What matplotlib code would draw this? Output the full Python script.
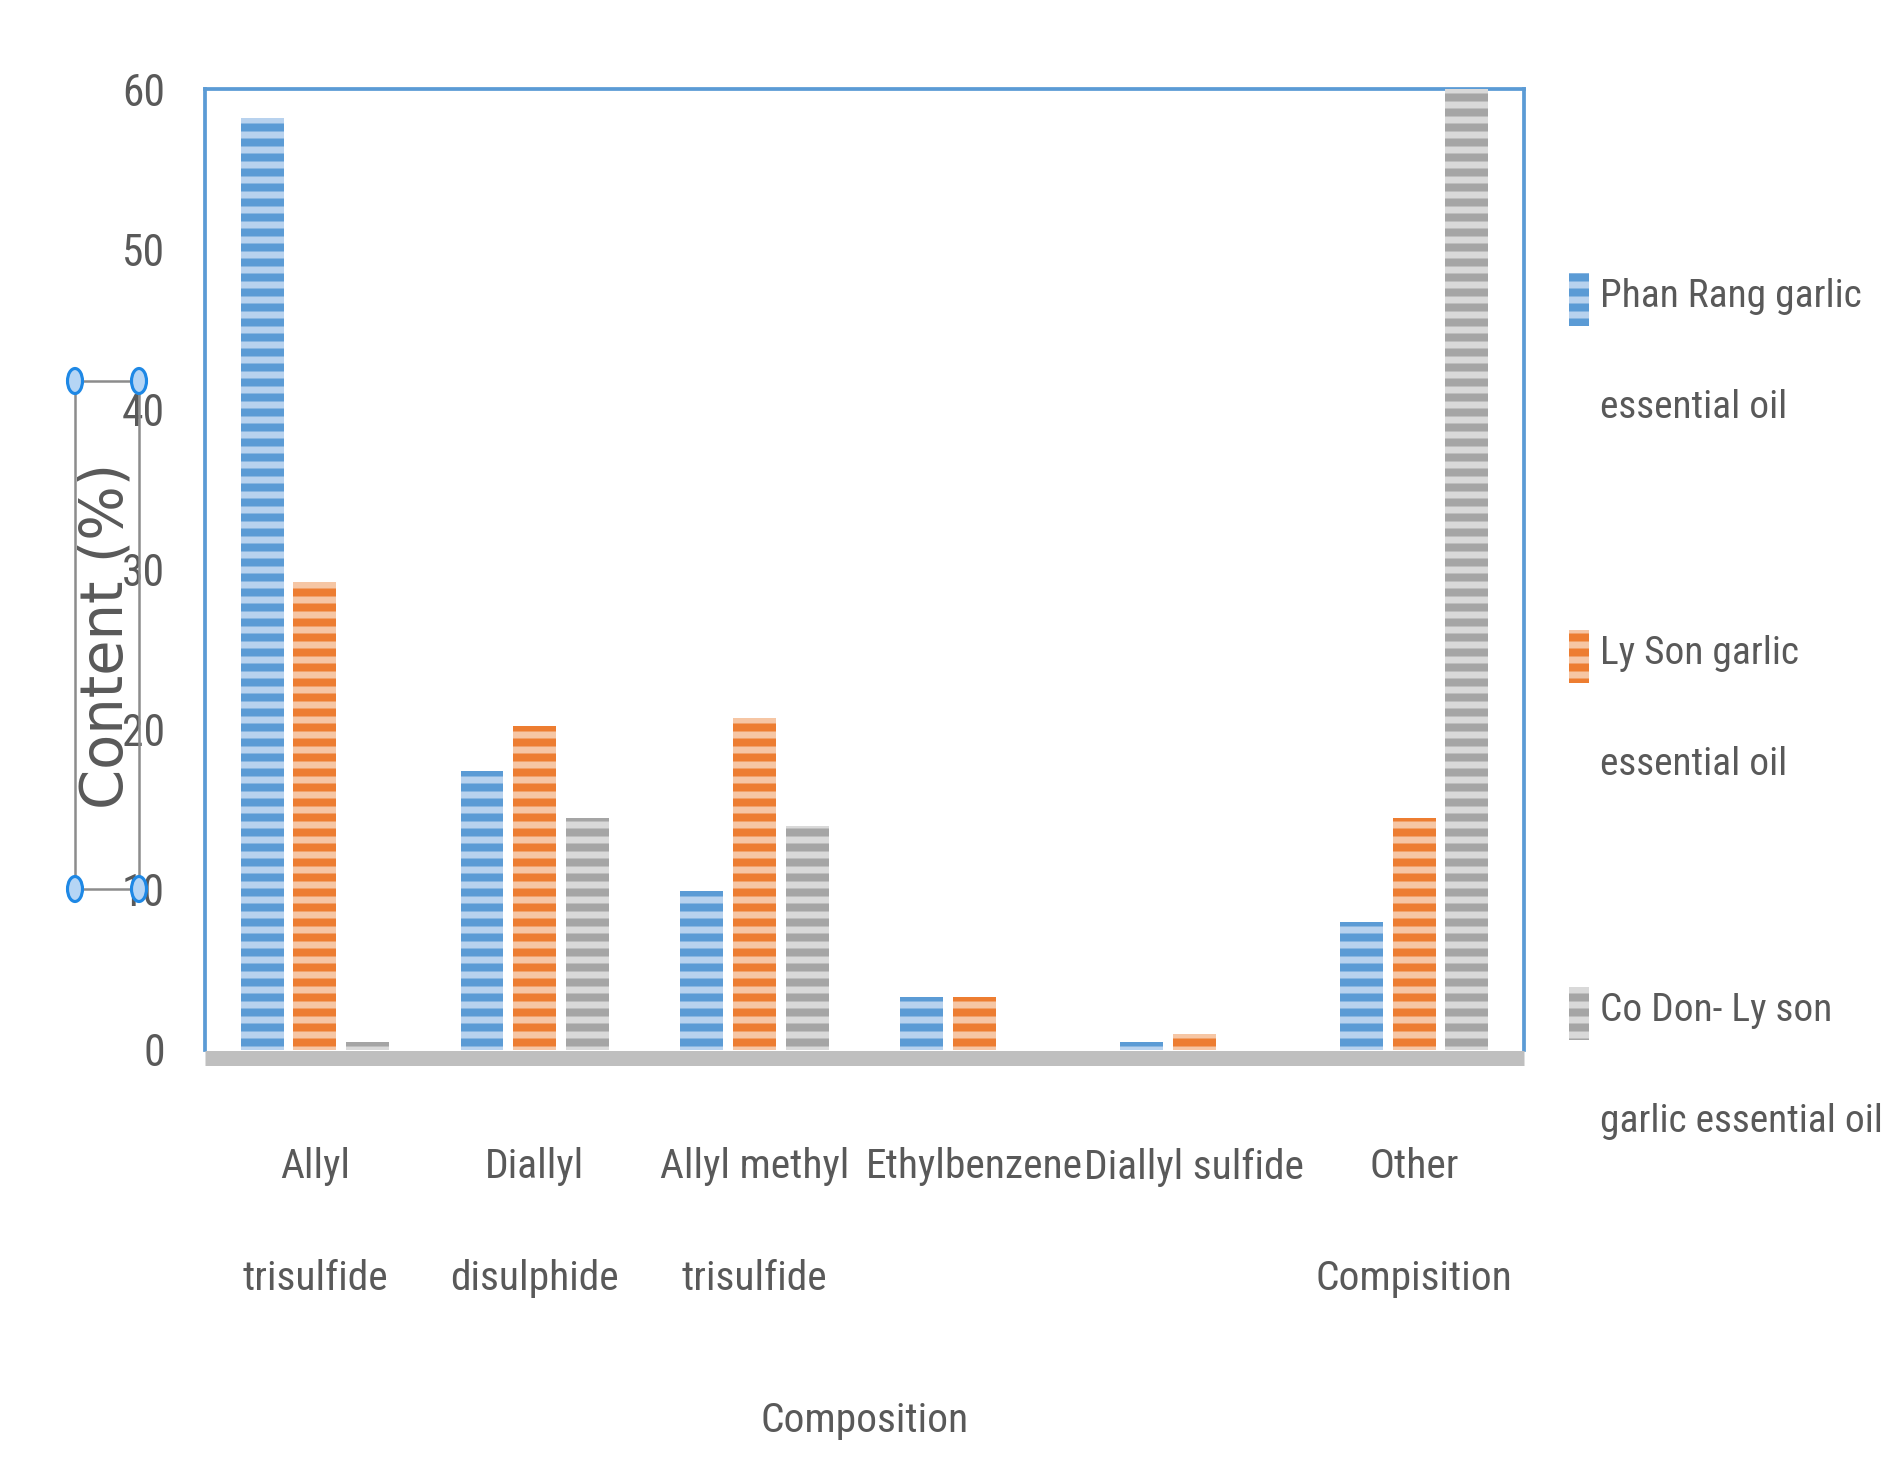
import matplotlib
matplotlib.use('Agg')
import matplotlib.pyplot as plt
from matplotlib import font_manager
from matplotlib.font_manager import FontProperties
from matplotlib.textpath import TextPath
from matplotlib.patches import Rectangle, Ellipse
from matplotlib.container import BarContainer
from matplotlib.legend_handler import HandlerPatch, update_from_first_child
import numpy as np

categories = ['Allyl\ntrisulfide', 'Diallyl\ndisulphide', 'Allyl methyl\ntrisulfide',
              'Ethylbenzene', 'Diallyl sulfide', 'Other\nCompisition']
phan_rang = [58.2, 17.4, 9.9, 3.3, 0.5, 8.0]
ly_son = [29.2, 20.2, 20.7, 3.3, 1.0, 14.5]
co_don = [0.5, 14.5, 14.0, 0.0, 0.0, 60.0]
series_names = ['Phan Rang garlic\nessential oil', 'Ly Son garlic\nessential oil',
                'Co Don- Ly son\ngarlic essential oil']
y_ticks = [0, 10, 20, 30, 40, 50, 60]

dark_colors = ['#5b9bd5', '#ed7d31', '#a5a5a5']
light_colors = ['#b8d2ee', '#f6c6a4', '#d9d9d9']
text_color = '#595959'

DPI = 90
PT = DPI / 72.0  # pixels per point

# pick the narrowest sans font that is installed (the chart uses a squeezed Calibri look)
fonts = font_manager.fontManager.ttflist
names = {f.name for f in fonts}
if 'Liberation Sans Narrow' in names:
    narrow = {'family': 'Liberation Sans Narrow'}
elif 'Roboto Condensed' in names:
    narrow = {'family': 'Roboto Condensed'}
elif any(f.name == 'DejaVu Sans' and f.stretch == 'condensed' for f in fonts):
    narrow = {'family': 'DejaVu Sans', 'stretch': 'condensed'}
else:
    narrow = {'family': 'Liberation Sans'}

# size the font so "Ethylbenzene" spans about 212 px, as in the chart
probe = TextPath((0, 0), 'Ethylbenzene', prop=FontProperties(size=100, **narrow))
fs = 100 * (212 / PT) / probe.get_extents().width
fs_px = fs * PT
step_px = 110  # distance between the two lines of a label
line_sp = (step_px - 0.21 * fs_px) / (0.73 * fs_px)

plt.rcParams['hatch.linewidth'] = 6.4

fig = plt.figure(figsize=(1889 / DPI, 1458 / DPI), dpi=DPI)
ax = fig.add_axes([205 / 1889, 1 - 1050 / 1458, 1319 / 1889, 961 / 1458])

for side in ['left', 'top', 'right']:
    ax.spines[side].set_color('#5b9bd5')
    ax.spines[side].set_linewidth(3)
ax.spines['bottom'].set_position(('outward', 6))
ax.spines['bottom'].set_color('#bfbfbf')
ax.spines['bottom'].set_linewidth(12)
ax.spines['bottom'].set_capstyle('butt')

x = np.arange(len(categories))
width = 0.195
offsets = [-0.24, 0.0, 0.24]
for vals, name, dc, lc, off in zip([phan_rang, ly_son, co_don], series_names,
                                   dark_colors, light_colors, offsets):
    ax.bar(x + off, vals, width, color=lc, edgecolor=dc, linewidth=0,
           hatch='-', label=name, zorder=3)

ax.set_xlim(-0.5, len(categories) - 0.5)
ax.set_ylim(0, 60)
ax.tick_params(axis='x', length=0, pad=72)
ax.tick_params(axis='y', length=0, pad=32)
ax.set_yticks(y_ticks)
ax.set_xticks(x)
ax.set_xticklabels(categories, fontproperties=FontProperties(size=fs, **narrow),
                   color=text_color, linespacing=line_sp, va='top')
ax.set_yticklabels([str(t) for t in y_ticks],
                   fontproperties=FontProperties(size=fs * 1.05, **narrow), color=text_color)

ax.set_xlabel('Composition', fontproperties=FontProperties(size=fs, **narrow),
              color=text_color)
ax.xaxis.set_label_coords(0.5, -0.386)
ax.xaxis.label.set_va('center')

ax.set_ylabel('Content (%)', family='DejaVu Sans', fontsize=46, color=text_color)
ax.yaxis.set_label_coords(-0.075, 0.431)
ax.yaxis.label.set_va('center')

# selection frame around the axis title
fig.patches.append(Rectangle((75 / 1889, 1 - 889 / 1458), 64 / 1889, 508 / 1458,
                             transform=fig.transFigure, fill=False,
                             edgecolor='#8c8c8c', linewidth=2))
for cx in [75, 139]:
    for cy in [381, 889]:
        fig.patches.append(Ellipse((cx / 1889, 1 - cy / 1458), 15 / 1889, 25 / 1458,
                                   transform=fig.transFigure, facecolor='#b5d5f5',
                                   edgecolor='#1e88e5', linewidth=2.5, zorder=5))

leg_fs = fs * 0.95
leg_px = leg_fs * PT
shift_pt = 54 / PT
key_h = 53 / PT


def top_patch(legend, orig_handle, xdescent, ydescent, width, height, fontsize):
    # legend key next to the first line of the label
    y0 = -ydescent + shift_pt + height / 2 - key_h / 2
    return Rectangle((-xdescent, y0), width, key_h)


leg = ax.legend(loc='upper left',
                bbox_to_anchor=(1569 / 1889, 1 - (297 - 0.47 * leg_px) / 1458),
                bbox_transform=fig.transFigure, frameon=False,
                prop=FontProperties(size=leg_fs, **narrow), labelcolor=text_color,
                handlelength=20 / leg_px, handleheight=53 / leg_px,
                handletextpad=11 / leg_px,
                labelspacing=(355 - 108 - 0.96 * leg_px) / leg_px,
                borderaxespad=0, borderpad=0,
                handler_map={BarContainer: HandlerPatch(patch_func=top_patch,
                                                        update_func=update_from_first_child)})
for t in leg.get_texts():
    t.set_linespacing((step_px - 0.21 * leg_px) / (0.73 * leg_px))

fig.savefig('out.png', dpi=DPI, facecolor='white')
